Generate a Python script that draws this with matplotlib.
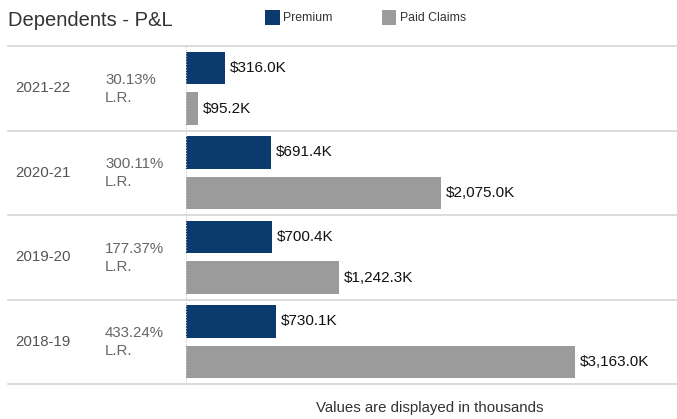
import matplotlib
matplotlib.use('Agg')
import matplotlib.pyplot as plt
from matplotlib.patches import Patch
import numpy as np

plt.rcParams['font.family'] = ['Liberation Sans', 'DejaVu Sans']

# data
years = ['2021-22', '2020-21', '2019-20', '2018-19']
loss_ratio = ['30.13%', '300.11%', '177.37%', '433.24%']
premium = [316.0, 691.4, 700.4, 730.1]
claims = [95.2, 2075.0, 1242.3, 3163.0]

navy = '#0b3a6e'
grey = '#9b9b9b'
line_col = '#d6d6d6'

W, H = 677, 419
fig = plt.figure(figsize=(W / 100, H / 100), dpi=100)
ax = fig.add_axes([186 / W, 1 - 384 / H, 1 - 186 / W, (384 - 46) / H])

y = np.arange(len(years))
bh = 0.38
ax.barh(y + 0.26, premium, height=bh, color=navy)
ax.barh(y + 0.74, claims, height=bh, color=grey)

for i in range(len(years)):
    ax.text(premium[i] + 40, y[i] + 0.26, f'${premium[i]:,.1f}K', va='center', ha='left',
            fontsize=11, color='#111111')
    ax.text(claims[i] + 40, y[i] + 0.74, f'${claims[i]:,.1f}K', va='center', ha='left',
            fontsize=11, color='#111111')

ax.set_xlim(0, 491 / (389 / 3163.0))
ax.set_ylim(len(years), 0)
ax.axis('off')

# row separators, running out to the left under the labels
left_frac = -(186 - 8) / 491
for k in range(len(years) + 1):
    ax.axhline(k, xmin=left_frac, xmax=1, color=line_col, lw=1.2, clip_on=False)
ax.axvline(0, color='#c8c8c8', lw=0.8, ls=(0, (1, 1.5)))

tr = ax.get_yaxis_transform()
for i in range(len(years)):
    ax.text((15 - 186) / 491, y[i] + 0.5, years[i], transform=tr, va='center', ha='left',
            fontsize=10.8, color='#555555')
    ax.text((105 - 186) / 491, y[i] + 0.40, loss_ratio[i], transform=tr, va='center', ha='left',
            fontsize=10.8, color='#666666')
    ax.text((105 - 186) / 491, y[i] + 0.61, 'L.R.', transform=tr, va='center', ha='left',
            fontsize=10.8, color='#666666')

fig.text(8 / W, 1 - 21 / H, 'Dependents - P&L', fontsize=14.5, color='#333333', va='center', ha='left')

handles = [Patch(facecolor=navy, label='Premium'), Patch(facecolor=grey, label='Paid Claims')]
fig.legend(handles=handles, loc='upper left', bbox_to_anchor=(265 / W, 1 - 10 / H), ncol=2,
           frameon=False, fontsize=8.8, handlelength=1.2, handleheight=1.45, handletextpad=0.3,
           columnspacing=4.0, borderpad=0, borderaxespad=0, labelcolor='#333333')

fig.text(430 / W, 1 - 408 / H, 'Values are displayed in thousands', fontsize=10.8, color='#333333',
         ha='center', va='center')

fig.savefig('out.png', dpi=100)
